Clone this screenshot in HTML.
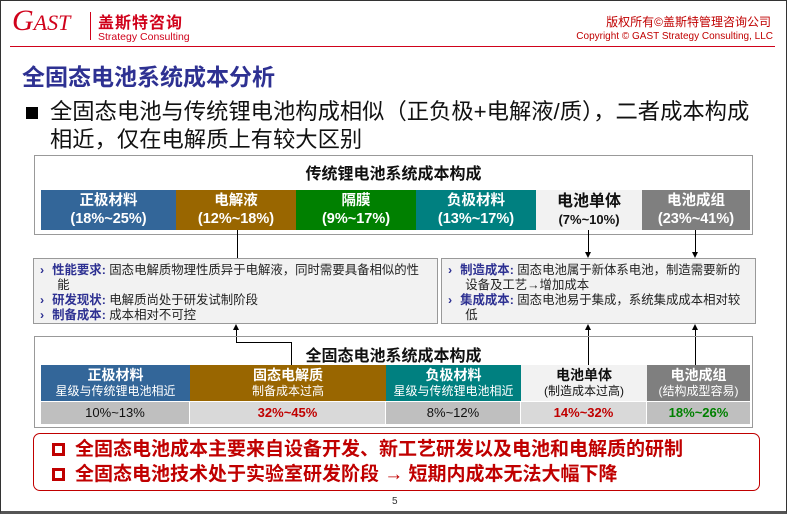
<!DOCTYPE html>
<html><head><meta charset="utf-8"><style>
*{margin:0;padding:0;box-sizing:border-box}
body{width:787px;height:514px;overflow:hidden;background:#fff;font-family:"Liberation Sans","Noto Sans CJK SC",sans-serif;position:relative}
.a{position:absolute}
.c{position:absolute;display:flex;flex-direction:column;align-items:center;justify-content:center;text-align:center;color:#fff;font-weight:bold;line-height:1.25}
.bx{position:absolute;background:#f2f2f2;border:1px solid #999;font-size:12.4px;line-height:15px;padding:4px 6px;color:#222;white-space:nowrap;overflow:hidden}
.bx b{color:#2e3192}
.ar{color:#2e3192;font-weight:bold;margin-right:8px}
.v{position:absolute;width:1px;background:#000}
.sq{display:inline-block;width:13px;height:13px;border:3px solid #c00000;margin-right:10px;vertical-align:-1px}
</style></head><body>
<div class="a" style="left:0;top:0;width:787px;height:514px;border:1px solid #333;border-bottom:3px solid #555"></div>
<div class="a" style="left:12px;top:4px;font:italic 30px 'Liberation Serif',serif;color:#d0021b">G<span style="font-size:22px">AST</span></div>
<div class="a" style="left:90px;top:12px;width:1px;height:28px;background:#d0021b"></div>
<div class="a" style="left:98px;top:9px;font-size:16px;font-weight:bold;color:#d0021b;letter-spacing:1px">盖斯特咨询</div>
<div class="a" style="left:98px;top:31px;font-size:10.5px;color:#d0021b">Strategy Consulting</div>
<div class="a" style="right:16px;top:13px;font-size:12px;color:#c00000">版权所有©盖斯特管理咨询公司</div>
<div class="a" style="right:14px;top:31px;font-size:10px;color:#c00000">Copyright © GAST Strategy Consulting, LLC</div>
<div class="a" style="left:10px;top:46px;width:765px;height:1px;background:#d0021b"></div>
<div class="a" style="left:22px;top:58px;font-size:23px;font-weight:bold;color:#2e3192">全固态电池系统成本分析</div>
<div class="a" style="left:26px;top:107px;width:12px;height:12px;background:#000"></div>
<div class="a" style="left:50px;top:98px;font-size:22.3px;line-height:28px;color:#111;width:740px;white-space:nowrap">全固态电池与传统锂电池构成相似（正负极+电解液/质），二者成本构成<br>相近，仅在电解质上有较大区别</div>

<div class="a" style="left:34px;top:155px;width:719px;height:80px;border:1px solid #999"></div>
<div class="a" style="left:34px;top:160px;width:719px;text-align:center;font-size:16px;font-weight:bold;color:#111">传统锂电池系统成本构成</div>
<div class="c" style="left:41px;top:190px;width:135px;height:40px;background:#336699;font-size:14.5px">正极材料<span>(18%~25%)</span></div>
<div class="c" style="left:176px;top:190px;width:120px;height:40px;background:#996600;font-size:14.5px">电解液<span>(12%~18%)</span></div>
<div class="c" style="left:296px;top:190px;width:120px;height:40px;background:#008000;font-size:14.5px">隔膜<span>(9%~17%)</span></div>
<div class="c" style="left:416px;top:190px;width:120px;height:40px;background:#008080;font-size:14.5px">负极材料<span>(13%~17%)</span></div>
<div class="c" style="left:536px;top:190px;width:106px;height:40px;background:#f2f2f2;color:#111;font-size:16px">电池单体<span style="font-size:13px">(7%~10%)</span></div>
<div class="c" style="left:642px;top:190px;width:108px;height:40px;background:#7f7f7f;font-size:14.5px">电池成组<span>(23%~41%)</span></div>

<div class="v" style="left:237px;top:230px;height:28px"></div>
<div class="v" style="left:588px;top:230px;height:26px"></div>
<div class="v" style="left:695px;top:230px;height:26px"></div>
<div class="a" style="left:585px;top:252px;border:3.5px solid transparent;border-top:6px solid #000;border-bottom:0"></div>
<div class="a" style="left:692px;top:252px;border:3.5px solid transparent;border-top:6px solid #000;border-bottom:0"></div>

<div class="bx" style="left:33px;top:258px;width:405px;height:66px"><span class="ar">›</span><b>性能要求:</b> 固态电解质物理性质异于电解液，同时需要具备相似的性<br>&nbsp;&nbsp;&nbsp;&nbsp;&nbsp;能<br><span class="ar">›</span><b>研发现状:</b> 电解质尚处于研发试制阶段<br><span class="ar">›</span><b>制备成本:</b> 成本相对不可控</div>
<div class="bx" style="left:441px;top:258px;width:315px;height:66px"><span class="ar">›</span><b>制造成本:</b> 固态电池属于新体系电池，制造需要新的<br>&nbsp;&nbsp;&nbsp;&nbsp;&nbsp;设备及工艺→增加成本<br><span class="ar">›</span><b>集成成本:</b> 固态电池易于集成，系统集成成本相对较<br>&nbsp;&nbsp;&nbsp;&nbsp;&nbsp;低</div>

<div class="v" style="left:236px;top:326px;height:17px"></div>
<div class="a" style="left:233px;top:324px;border:3.5px solid transparent;border-bottom:6px solid #000;border-top:0"></div>
<div class="a" style="left:236px;top:342px;width:56px;height:1px;background:#000"></div>
<div class="v" style="left:291px;top:342px;height:23px"></div>
<div class="v" style="left:588px;top:326px;height:39px"></div>
<div class="v" style="left:695px;top:326px;height:39px"></div>
<div class="a" style="left:585px;top:324px;border:3.5px solid transparent;border-bottom:6px solid #000;border-top:0"></div>
<div class="a" style="left:692px;top:324px;border:3.5px solid transparent;border-bottom:6px solid #000;border-top:0"></div>

<div class="a" style="left:34px;top:336px;width:719px;height:92px;border:1px solid #999"></div>
<div class="a" style="left:34px;top:342px;width:719px;text-align:center;font-size:16px;font-weight:bold;color:#111">全固态电池系统成本构成</div>
<div class="c" style="left:41px;top:365px;width:149px;height:36px;background:#336699;font-size:14px">正极材料<span style="font-size:12px;font-weight:normal">星级与传统锂电池相近</span></div>
<div class="c" style="left:190px;top:365px;width:196px;height:36px;background:#996600;font-size:14px">固态电解质<span style="font-size:12px;font-weight:normal">制备成本过高</span></div>
<div class="c" style="left:386px;top:365px;width:135px;height:36px;background:#008080;font-size:14px">负极材料<span style="font-size:12px;font-weight:normal">星级与传统锂电池相近</span></div>
<div class="c" style="left:521px;top:365px;width:126px;height:36px;background:#f2f2f2;color:#111;font-size:14px">电池单体<span style="font-size:12px;font-weight:normal">(制造成本过高)</span></div>
<div class="c" style="left:647px;top:365px;width:103px;height:36px;background:#7f7f7f;font-size:14px">电池成组<span style="font-size:12px;font-weight:normal">(结构成型容易)</span></div>
<div class="c" style="left:41px;top:402px;width:148px;height:22px;background:#bfbfbf;color:#111;font-weight:normal;font-size:13px">10%~13%</div>
<div class="c" style="left:190px;top:402px;width:195px;height:22px;background:#d9d9d9;color:#c00000;font-size:13px">32%~45%</div>
<div class="c" style="left:386px;top:402px;width:134px;height:22px;background:#bfbfbf;color:#111;font-weight:normal;font-size:13px">8%~12%</div>
<div class="c" style="left:521px;top:402px;width:125px;height:22px;background:#d9d9d9;color:#c00000;font-size:13px">14%~32%</div>
<div class="c" style="left:647px;top:402px;width:103px;height:22px;background:#bfbfbf;color:#008000;font-size:13px">18%~26%</div>

<div class="a" style="left:33px;top:433px;width:727px;height:58px;border:1px solid #c00000;border-radius:7px"></div>
<div class="a" style="left:52px;top:437px;font-size:19px;font-weight:bold;color:#c00000;line-height:25px;white-space:nowrap"><span class="sq"></span>全固态电池成本主要来自设备开发、新工艺研发以及电池和电解质的研制<br><span class="sq"></span>全固态电池技术处于实验室研发阶段 → 短期内成本无法大幅下降</div>
<div class="a" style="left:392px;top:496px;font-size:10px;color:#333">5</div>
</body></html>
